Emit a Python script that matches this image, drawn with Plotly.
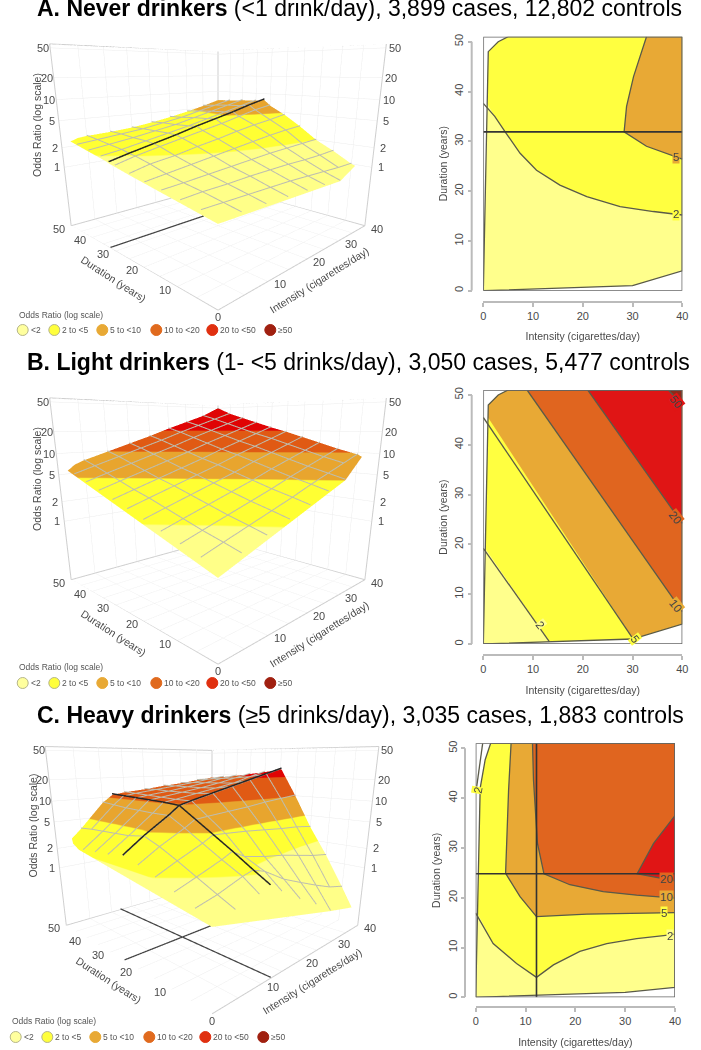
import math
import plotly.graph_objects as go

W, H = 701, 1050
N = None
def fx(p): return p / W
def fy(p): return 1 - p / H

BAND_NAMES = ["&lt;2", "2 to &lt;5", "5 to &lt;10", "10 to &lt;20", "20 to &lt;50", "≥50"]
BAND_LIMITS = [2, 5, 10, 20, 50]
SURF_COLORS = ["#FFFF88", "#FFFF33", "#E8A52E", "#E05A14", "#E00404", "#8E1C0C"]
FLAT_COLORS = ["#FFFF8C", "#FFFF40", "#E8A935", "#E0651F", "#E01515", "#8E2A1A"]
LEG_COLORS = ["#FFFF9E", "#FFFF3C", "#E8A935", "#E06A1E", "#E03010", "#A02010"]

Z_TICKS = [1, 2, 5, 10, 20, 50]
Z_RANGE = [-0.95, 1.75]
IX_TICKS = [10, 20, 30, 40]
DUR_TICKS = [10, 20, 30, 40, 50]

# ---- panel A: log10(odds ratio)
A_I = [1, 5, 10, 15, 20, 25, 30, 35, 40]
A_D = [1, 5, 10, 15, 20, 25, 30, 32, 35, 40, 45, 50]
A_LOG_OR = [
    [0, -.01, -.02, -.03, -.04, -.05, -.07, N, N],
    [.03, .03, .03, .03, .03, .02, .01, 0, 0],
    [.06, .08, .09, .11, .12, .13, .13, .14, .16],
    [.10, .12, .15, .18, .21, .24, .26, .28, .30],
    [.13, .17, .22, .27, .32, .37, .42, .46, .49],
    [.17, .24, .29, .36, .42, .49, .55, .60, .66],
    [.22, .295, .37, .44, .51, .58, .66, .74, .80],
    [.24, .31, .39, .47, .56, .64, .72, .81, .89],
    [.295, .34, .41, .48, .55, .63, .71, .79, .87],
    [.33, .37, .42, .48, .54, .62, .70, .78, .86],
    [.37, .40, .44, .48, .54, .60, .68, .76, .84],
    [N, .43, .45, .48, .53, .59, .66, .74, .83],
]
A_EDGE_I = [0, 40, 1, 3]
A_EDGE_D = [0, 4, 48, 49.5]
A_EDGE_LOG = [0, -.02, .40, .42]
A_LINES_D = [32]
A_LINES_I = []

# ---- panel B
B_I = [1, 5, 10, 15, 20, 25, 30, 35, 40]
B_D = [1, 5, 10, 15, 20, 25, 30, 35, 40, 45, 50]
B_LOG_OR = [
    [.04, .13, .24, .35, .46, .58, .69, N, N],
    [.10, .19, .30, .41, .52, .64, .75, .86, .97],
    [.17, .26, .37, .48, .59, .71, .82, .93, 1.04],
    [.25, .34, .45, .56, .67, .79, .90, 1.01, 1.12],
    [.33, .42, .53, .64, .75, .87, .98, 1.09, 1.20],
    [.41, .50, .61, .72, .83, .95, 1.06, 1.17, 1.28],
    [.48, .57, .68, .79, .90, 1.02, 1.13, 1.24, 1.35],
    [.56, .65, .76, .87, .98, 1.10, 1.21, 1.32, 1.43],
    [.64, .73, .84, .95, 1.06, 1.18, 1.29, 1.40, 1.51],
    [.72, .81, .92, 1.03, 1.14, 1.26, 1.37, 1.48, 1.59],
    [N, .88, .99, 1.10, 1.21, 1.33, 1.44, 1.55, 1.70],
]
B_EDGE_I = [0, 40, 1, 3]
B_EDGE_D = [0, 4, 48, 49.5]
B_EDGE_LOG = [0, .94, .76, .83]
B_LINES_D = []
B_LINES_I = []

# ---- panel C
C_I = [1, 5, 10, 12.2, 15, 20, 25, 30, 35, 40]
C_D = [1, 5, 10, 15, 20, 24.7, 30, 35, 40, 45, 50]
C_LOG_OR = [
    [.03, .07, .13, .20, .08, -.12, -.30, -.50, N, N],
    [.10, .17, .29, .33, .27, .085, -.05, -.18, -.30, -.38],
    [.20, .30, .43, .50, .40, .33, .28, .21, .14, .09],
    [.30, .43, .58, .66, .65, .63, .60, .57, .55, .51],
    [.38, .55, .73, .82, .84, .87, .90, .94, .97, 1.00],
    [.44, .64, .86, .97, 1.02, 1.10, 1.18, 1.26, 1.34, 1.42],
    [.40, .60, .86, .99, 1.02, 1.08, 1.14, 1.20, 1.29, 1.37],
    [.38, .59, .87, 1.00, 1.03, 1.08, 1.13, 1.19, 1.26, 1.33],
    [.36, .58, .88, 1.01, 1.04, 1.08, 1.13, 1.18, 1.24, 1.29],
    [N, .57, .90, 1.02, 1.05, 1.09, 1.13, 1.17, 1.22, 1.26],
    [N, .55, .92, 1.03, 1.06, 1.09, 1.13, 1.16, 1.20, 1.24],
]
C_EDGE_I = [0, 40, 1, 2, 3]
C_EDGE_D = [0, 2, 42, 47, 50]
C_EDGE_LOG = [.03, -.68, .35, .38, .42]
C_LINES_D = [24.7]
C_LINES_I = [12.2]

# ---- flat contour panels: outlines
A_HULL = [(0, 0), (30, 1), (40, 4), (40, 51), (5, 51), (3, 50), (1, 48), (0, 0)]
A_C2 = [(0, 37.6), (2.3, 35), (4.6, 31.6), (7.4, 27.6), (10.7, 24.2), (15.4, 21.2), (20.8, 18.9), (27.5, 16.9), (34.2, 15.9), (37.5, 15.5), (40, 15.2)]
A_C5 = [(32.8, 51), (30.2, 43), (28.8, 37), (28.3, 31.9), (32.8, 29), (37.9, 27.2), (40, 26.4)]
A_REGIONS = [
    (1, [(0.78, 37.6)] + A_C2[1:] + [(40, 51), (5, 51), (3, 50), (1, 48)]),
    (2, A_C5 + [(40, 51)]),
]
A_CURVES = [A_HULL, A_C2, A_C5]
A_KNOT_I = []
A_KNOT_D = [31.9]
A_LABELS = [("5", 38.7, 26.9, 0, 2), ("2", 38.7, 15.5, 0, 1)]

B_HULL = A_HULL
B_C2 = [(0, 19.2), (13.3, 0.45)]
B_C5 = [(0, 45.5), (30.1, 1.05)]
B_C10 = [(8.8, 51), (40, 6.5)]
B_C20 = [(21, 51), (40, 24.2)]
B_C50 = [(37.2, 51), (40, 48)]
B_REGIONS = [
    (1, [(0.4, 19.2), (13.3, 0.45), (30, 1), (40, 4), (40, 51), (5, 51), (3, 50), (1, 48)]),
    (2, [(0.95, 45.5), (30.1, 1.05), (40, 4), (40, 51), (5, 51), (3, 50), (1, 48)]),
    (3, B_C10 + [(40, 51)]),
    (4, B_C20 + [(40, 51)]),
    (5, B_C50 + [(40, 51)]),
]
B_CURVES = [B_HULL, B_C2, B_C5, B_C10, B_C20, B_C50]
B_KNOT_I = []
B_KNOT_D = []
B_LABELS = [("2", 11.4, 3.8, 52, 0), ("5", 30.5, 1.0, 52, 1), ("10", 38.7, 7.6, 52, 2),
            ("20", 38.7, 25.4, 52, 3), ("50", 38.7, 48.5, 52, 4)]

C_HULL = [(0, 0), (30, 1), (40, 2), (40, 51), (3, 51), (1.9, 47.7), (0.9, 42), (0, 0)]
C_C2A = [(0, 16.9), (3.5, 10.8), (8.2, 6.8), (12.2, 4), (15.6, 6.5), (20.9, 9.2), (26.3, 10.8), (32.3, 11.8), (37.7, 12.4), (40, 12.7)]
C_C2B = [(0.2, 42.3), (1.4, 51)]
C_C5 = [(7.1, 51), (6.6, 41.6), (6, 24.9), (8.9, 20.2), (12.2, 16.2), (22.3, 16.7), (40, 17)]
C_C10 = [(11.4, 51), (11.6, 43.6), (12.4, 30.9), (13.7, 24.8), (18.9, 22.6), (25.6, 21.2), (32.3, 20.5), (40, 19.9)]
C_C20 = [(40, 36.5), (35.7, 30.9), (32.4, 24.8), (40, 23.4)]
C_REGIONS = [
    (1, [(0.37, 16.9)] + C_C2A[1:] + [(40, 51), (3, 51), (1.9, 47.7), (0.9, 42)]),
    (2, C_C5 + [(40, 51)]),
    (3, C_C10 + [(40, 51)]),
    (4, C_C20),
]
C_CURVES = [C_HULL, C_C2A, C_C2B, C_C5, C_C10, C_C20]
C_KNOT_I = [12.2]
C_KNOT_D = [24.8]
C_LABELS = [("2", 0.5, 41.6, -80, 1), ("2", 38.9, 12.4, 0, 0), ("5", 37.7, 16.9, 0, 1),
            ("10", 38.2, 20.2, 0, 2), ("20", 38.2, 23.7, 0, 3)]

TITLES = [
    ("<b>A. Never drinkers</b> (&lt;1 drink/day), 3,899 cases, 12,802 controls", 35, 8),
    ("<b>B. Light drinkers</b> (1- &lt;5 drinks/day), 3,050 cases, 5,477 controls", 25, 362),
    ("<b>C. Heavy drinkers</b> (≥5 drinks/day), 3,035 cases, 1,883 controls", 35, 715),
]

FONT = "Liberation Sans"
TICK_COL = "#4a4a4a"

fig = go.Figure()
annotations, shapes = [], []
layout = {}


def add_surface(scene, I, D, T, ei, ed, el, lines_d, lines_i):
    xs, ys, ls = [], [], []
    for r, d in enumerate(D):
        for c, i in enumerate(I):
            if T[r][c] is not None:
                xs.append(i); ys.append(d); ls.append(T[r][c])
    xs += ei; ys += ed; ls += el
    lo, hi = -1.0, 2.0
    stops = []
    edges = [lo] + [math.log10(b) for b in BAND_LIMITS] + [hi]
    for k, col in enumerate(SURF_COLORS):
        stops.append([(edges[k] - lo) / (hi - lo), col])
        stops.append([(edges[k + 1] - lo) / (hi - lo), col])
    fig.add_trace(go.Mesh3d(
        scene=scene, x=xs, y=ys, z=[10 ** v for v in ls], intensity=ls,
        delaunayaxis="z", cmin=lo, cmax=hi, colorscale=stops, showscale=False,
        flatshading=False, hoverinfo="skip",
        lighting=dict(ambient=1, diffuse=0, specular=0, roughness=1, fresnel=0)))
    gx, gy, gz = [], [], []
    lift = 0.012
    for c, i in enumerate(I):
        if abs(i / 5 - round(i / 5)) < 0.001 and i < 40:
            for r, d in enumerate(D):
                if T[r][c] is not None:
                    gx.append(i); gy.append(d); gz.append(10 ** (T[r][c] + lift))
            gx.append(None); gy.append(None); gz.append(None)
    for r, d in enumerate(D):
        if abs(d / 5 - round(d / 5)) < 0.07 and d < 50:
            for c, i in enumerate(I):
                if T[r][c] is not None:
                    gx.append(i); gy.append(d); gz.append(10 ** (T[r][c] + lift))
            gx.append(None); gy.append(None); gz.append(None)
    fig.add_trace(go.Scatter3d(scene=scene, x=gx, y=gy, z=gz, mode="lines",
                               line=dict(color="#bdbdb0", width=2), hoverinfo="skip", showlegend=False))
    z0, z1 = 10 ** Z_RANGE[0], 10 ** Z_RANGE[1]
    segs = [((0, 0, z0), (40, 0, z0)), ((0, 0, z0), (0, 50, z0)), ((40, 0, z0), (40, 50, z0)), ((0, 50, z0), (40, 50, z0)),
            ((0, 50, z0), (0, 50, z1)), ((40, 0, z0), (40, 0, z1)), ((40, 50, z0), (40, 50, z1)),
            ((0, 50, z1), (40, 50, z1)), ((40, 0, z1), (40, 50, z1))]
    bx, by, bz = [], [], []
    for a, b in segs:
        bx += [a[0], b[0], None]; by += [a[1], b[1], None]; bz += [a[2], b[2], None]
    fig.add_trace(go.Scatter3d(scene=scene, x=bx, y=by, z=bz, mode="lines",
                               line=dict(color="#cfcfcf", width=2), hoverinfo="skip", showlegend=False))
    lx, ly, lz, fx3, fy3, fz3 = [], [], [], [], [], []
    zf = 10 ** (Z_RANGE[0] + 0.012)
    for d0 in lines_d:
        r = D.index(d0)
        for c, i in enumerate(I):
            if T[r][c] is not None:
                lx.append(i); ly.append(d0); lz.append(10 ** (T[r][c] + 0.02))
        lx.append(None); ly.append(None); lz.append(None)
        fx3 += [0, 40, None]; fy3 += [d0, d0, None]; fz3 += [zf, zf, None]
    for i0 in lines_i:
        c = I.index(i0)
        for r, d in enumerate(D):
            if T[r][c] is not None:
                lx.append(i0); ly.append(d); lz.append(10 ** (T[r][c] + 0.02))
        lx.append(None); ly.append(None); lz.append(None)
        fx3 += [i0, i0, None]; fy3 += [0, 50, None]; fz3 += [zf, zf, None]
    if lx:
        fig.add_trace(go.Scatter3d(scene=scene, x=lx, y=ly, z=lz, mode="lines",
                                   line=dict(color="#262626", width=3), hoverinfo="skip", showlegend=False))
        fig.add_trace(go.Scatter3d(scene=scene, x=fx3, y=fy3, z=fz3, mode="lines",
                                   line=dict(color="#444444", width=2.5), hoverinfo="skip", showlegend=False))


def scene_layout(cx, cy, cz):
    half = 165
    half_w = min(cx, 218)
    anns = []
    def lab(text, x, y, z, xs, ys, angle=0, size=11):
        anns.append(dict(x=x, y=y, z=z, text=text, showarrow=False, xshift=xs, yshift=ys,
                         textangle=angle, font=dict(family=FONT, size=size, color=TICK_COL)))
    zb = Z_RANGE[0]
    for v in Z_TICKS:
        lab(str(v), 0, 50, math.log10(v), -7, 0)
        lab(str(v), 40, 0, math.log10(v), 9, 0)
    for v in DUR_TICKS:
        lab(str(v), 0, v, zb, -12, -3)
    for v in IX_TICKS:
        lab(str(v), v, 0, zb, 12, -3)
    lab("0", 0, 0, zb, 0, -7)
    lab("Duration (years)", 0, 25, zb, -15, -20, 33, 10.5)
    lab("Intensity (cigarettes/day)", 20, 0, zb, 12, -21, -32, 10.5)
    lab("Odds Ratio (log scale)", 0, 50, 0.64, -22, 0, -90, 10.5)
    common = dict(showticklabels=False, title=dict(text=""), showline=False, zeroline=False, showspikes=False,
                  ticks="", gridcolor="#ececec", gridwidth=1, showbackground=True, backgroundcolor="white",
                  autorange=False)
    return dict(
        domain=dict(x=[fx(cx - half_w), fx(cx + half_w)], y=[max(fy(cy + half), 0), fy(cy - half)]),
        xaxis=dict(range=[0, 40], tickvals=[5, 10, 15, 20, 25, 30, 35], **common),
        yaxis=dict(range=[0, 50], tickvals=[5, 10, 15, 20, 25, 30, 35, 40, 45], **common),
        zaxis=dict(type="log", range=Z_RANGE, tickvals=Z_TICKS, **common),
        aspectmode="manual", aspectratio=dict(x=1, y=1, z=0.82),
        camera=dict(eye=dict(x=-1.263, y=-1.263, z=cz + 0.56), center=dict(x=0, y=0, z=cz), up=dict(x=0, y=0, z=1),
                    projection=dict(type="perspective")),
        annotations=anns, dragmode=False, bgcolor="rgba(0,0,0,0)")


def add_flat(n, hull, regions, curves, knots_i, knots_d, labels, x0, x1, y0, y50, xline, yline):
    xa = "x" if n == 1 else f"x{n}"
    ya = "y" if n == 1 else f"y{n}"
    fig.add_trace(go.Scatter(x=[p[0] for p in hull], y=[p[1] for p in hull], xaxis=xa, yaxis=ya, mode="lines",
                             fill="toself", fillcolor=FLAT_COLORS[0], line=dict(width=0), hoverinfo="skip", showlegend=False))
    for k, poly in regions:
        fig.add_trace(go.Scatter(x=[p[0] for p in poly], y=[p[1] for p in poly], xaxis=xa, yaxis=ya, mode="lines",
                                 fill="toself", fillcolor=FLAT_COLORS[k], line=dict(width=0), hoverinfo="skip", showlegend=False))
    for cv in curves:
        fig.add_trace(go.Scatter(x=[p[0] for p in cv], y=[p[1] for p in cv], xaxis=xa, yaxis=ya, mode="lines",
                                 line=dict(color="#5a5a48", width=1.3), hoverinfo="skip", showlegend=False))
    for i0 in knots_i:
        fig.add_trace(go.Scatter(x=[i0, i0], y=[0, 51], xaxis=xa, yaxis=ya, mode="lines",
                                 line=dict(color="#333333", width=1.6), hoverinfo="skip", showlegend=False))
    for d0 in knots_d:
        fig.add_trace(go.Scatter(x=[0, 40], y=[d0, d0], xaxis=xa, yaxis=ya, mode="lines",
                                 line=dict(color="#333333", width=1.6), hoverinfo="skip", showlegend=False))
    top = y50 - (y0 - y50) / 50
    tfont = dict(family=FONT, size=11, color=TICK_COL)
    lay_x = dict(domain=[fx(x0), fx(x1)], range=[0, 40], tickvals=[0, 10, 20, 30, 40], anchor="free",
                 position=fy(xline), side="bottom", showline=True, linecolor="#bbbbbb", linewidth=2, ticks="outside",
                 ticklen=4, tickcolor="#bbbbbb", tickwidth=1.5, tickfont=tfont, showgrid=False, zeroline=False,
                 title=dict(text="Intensity (cigarettes/day)", font=dict(family=FONT, size=10.5, color=TICK_COL), standoff=11))
    lay_y = dict(domain=[fy(y0), fy(top)], range=[0, 51], tickvals=[0, 10, 20, 30, 40, 50], anchor="free",
                 position=fx(yline), side="left", showline=False, ticks="outside", ticklen=4, tickcolor="#bbbbbb",
                 tickwidth=1.5, tickfont=tfont, tickangle=-90, showgrid=False, zeroline=False,
                 title=dict(text="Duration (years)", font=dict(family=FONT, size=10.5, color=TICK_COL), standoff=2))
    layout["xaxis" if n == 1 else f"xaxis{n}"] = lay_x
    layout["yaxis" if n == 1 else f"yaxis{n}"] = lay_y
    shapes.append(dict(type="rect", xref=xa, yref=ya, x0=0, x1=40, y0=0, y1=51, line=dict(color="#666666", width=1.5), layer="above"))
    shapes.append(dict(type="line", xref="paper", yref=ya, x0=fx(yline), x1=fx(yline), y0=0, y1=50,
                       line=dict(color="#bbbbbb", width=2), layer="above"))
    for text, x, y, ang, band in labels:
        annotations.append(dict(x=x, y=y, xref=xa, yref=ya, text=text, textangle=ang, showarrow=False,
                                font=dict(family=FONT, size=11.5, color="#444444"), bgcolor=FLAT_COLORS[band],
                                borderpad=0))


def add_legend(dx, ty, cy):
    annotations.append(dict(x=fx(17 + dx), y=fy(ty), xref="paper", yref="paper", xanchor="left", yanchor="middle",
                            text="Odds Ratio (log scale)", showarrow=False, font=dict(family=FONT, size=8.5, color="#555555")))
    cx = [22.7, 54.3, 102.3, 156.3, 212.3, 270.3]
    for k, name in enumerate(BAND_NAMES):
        px = cx[k] + dx
        shapes.append(dict(type="circle", xref="paper", yref="paper", xsizemode="pixel", ysizemode="pixel",
                           xanchor=fx(px), yanchor=fy(cy), x0=-5.5, x1=5.5, y0=-5.5, y1=5.5,
                           fillcolor=LEG_COLORS[k], line=dict(color="#b5b58a" if k < 2 else LEG_COLORS[k], width=1)))
        annotations.append(dict(x=fx(px + 6), y=fy(cy), xref="paper", yref="paper", xanchor="left", yanchor="middle",
                                text=name, showarrow=False, font=dict(family=FONT, size=8.5, color="#555555")))


add_surface("scene", A_I, A_D, A_LOG_OR, A_EDGE_I, A_EDGE_D, A_EDGE_LOG, A_LINES_D, A_LINES_I)
add_surface("scene2", B_I, B_D, B_LOG_OR, B_EDGE_I, B_EDGE_D, B_EDGE_LOG, B_LINES_D, B_LINES_I)
add_surface("scene3", C_I, C_D, C_LOG_OR, C_EDGE_I, C_EDGE_D, C_EDGE_LOG, C_LINES_D, C_LINES_I)
layout["scene"] = scene_layout(218, 195, -0.255)
layout["scene2"] = scene_layout(218, 549, -0.255)
layout["scene3"] = scene_layout(212, 885, -0.205)

add_flat(1, A_HULL, A_REGIONS, A_CURVES, A_KNOT_I, A_KNOT_D, A_LABELS, 483.3, 682.3, 290.7, 41.7, 301.7, 471.7)
add_flat(2, B_HULL, B_REGIONS, B_CURVES, B_KNOT_I, B_KNOT_D, B_LABELS, 483.3, 682.3, 644, 395, 655, 471.7)
add_flat(3, C_HULL, C_REGIONS, C_CURVES, C_KNOT_I, C_KNOT_D, C_LABELS, 475.7, 675, 997.3, 748.3, 1007, 465)

add_legend(0, 315, 330)
add_legend(0, 667, 683)
add_legend(-7, 1021, 1037)

for text, x, y in TITLES:
    annotations.append(dict(x=fx(x), y=fy(y), xref="paper", yref="paper", xanchor="left", yanchor="middle",
                            text=text, showarrow=False, font=dict(family=FONT, size=23, color="black")))

fig.update_layout(width=W, height=H, autosize=False, margin=dict(l=0, r=0, t=0, b=0, autoexpand=False), paper_bgcolor="white",
                  plot_bgcolor="white", showlegend=False, annotations=annotations, shapes=shapes, **layout)

fig.write_html("out.html", config={"displayModeBar": False},
               post_script="document.body.style.margin='0';document.documentElement.style.overflow='hidden';")
